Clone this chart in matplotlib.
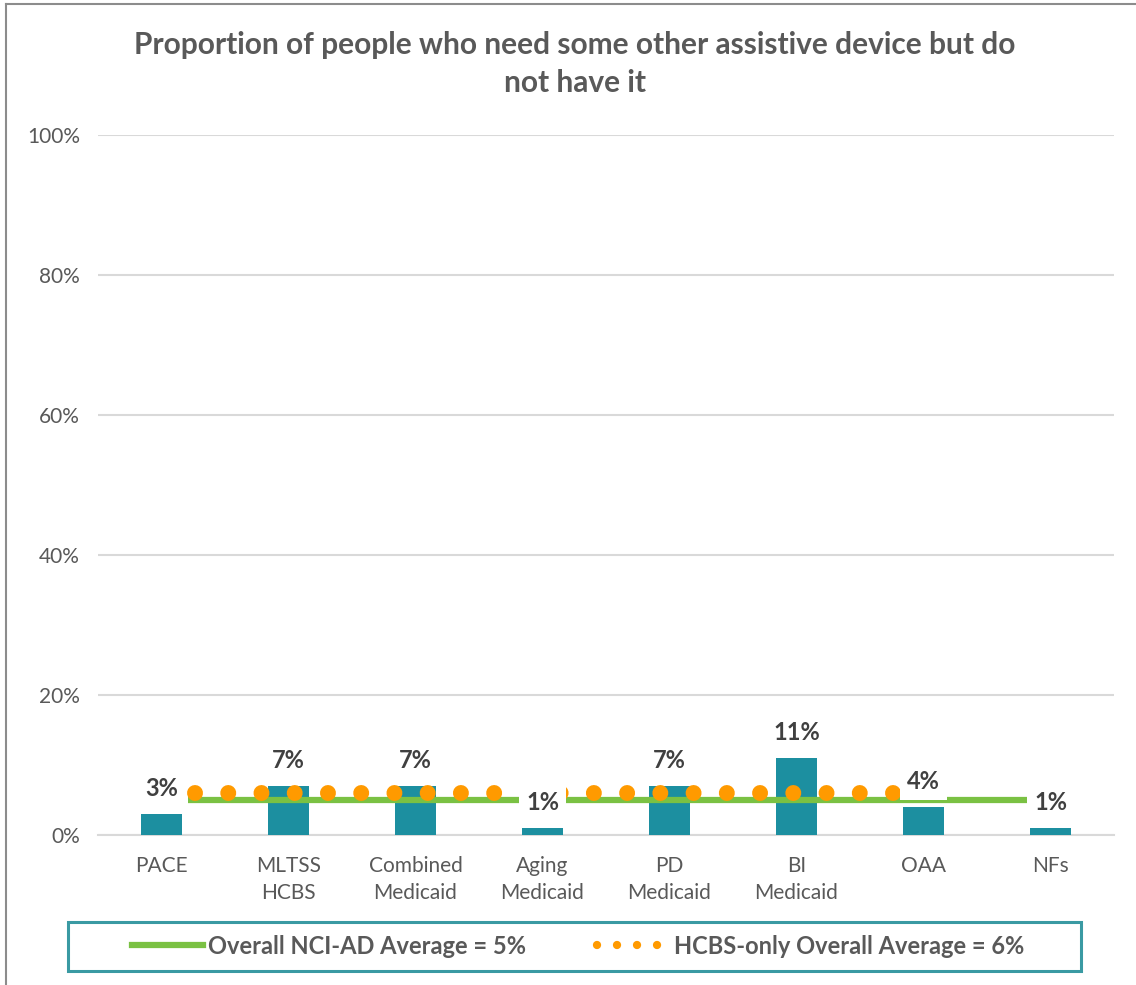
import numpy as np
import matplotlib.pyplot as plt
from matplotlib.lines import Line2D
from matplotlib.patches import Rectangle

plt.rcParams['font.family'] = ['Lato', 'DejaVu Sans']

# Data
categories = ["PACE", "MLTSS\nHCBS", "Combined\nMedicaid", "Aging\nMedicaid",
              "PD\nMedicaid", "BI\nMedicaid", "OAA", "NFs"]
values = [3, 7, 7, 1, 7, 11, 4, 1]
overall_avg = 5
hcbs_avg = 6
yticks = [0, 20, 40, 60, 80, 100]

TEAL = "#1C8FA0"
GREEN = "#7AC143"
ORANGE = "#FF9A00"
GRAY = "#595959"
GRID = "#D9D9D9"

fig = plt.figure(figsize=(11.36, 9.85), dpi=100)
ax = fig.add_axes([98/1136, 150/985, 1016/1136, 700/985])

x = np.arange(len(categories))
ax.bar(x, values, width=0.33, color=TEAL, zorder=3)

# average lines (drawn shapes in the original, partial spans)
ax.plot([0.21, 6.84], [overall_avg, overall_avg], color=GREEN, lw=4.5,
        solid_capstyle='butt', zorder=4)
ax.plot([0.264, 5.78], [hcbs_avg, hcbs_avg], color=ORANGE, lw=11.5,
        linestyle=(0, (0.001, 2.08)), dash_capstyle='round', zorder=5)

# data labels
for xi, v in zip(x, values):
    ax.annotate(f"{v}%", (xi, v), xytext=(0, 10), textcoords='offset points',
                ha='center', va='bottom', fontsize=17, fontweight='bold',
                color="#404040", zorder=6,
                bbox=dict(boxstyle='square,pad=0.3', fc='white', ec='none'))

ax.set_xlim(-0.5, len(categories) - 0.5)
ax.set_ylim(0, 100)
ax.set_yticks(yticks)
ax.set_yticklabels([f"{t}%" for t in yticks], fontsize=15, color=GRAY)
ax.set_xticks(x)
ax.set_xticklabels(categories, fontsize=15, color=GRAY, linespacing=1.45)
ax.tick_params(axis='both', length=0)
ax.tick_params(axis='x', pad=15)
ax.tick_params(axis='y', pad=13)
ax.grid(axis='y', color=GRID, lw=1.5, zorder=0)
for s in ['top', 'right', 'left']:
    ax.spines[s].set_visible(False)
ax.spines['bottom'].set_color(GRID)
ax.spines['bottom'].set_linewidth(1.5)

fig.text(575/1136, 1 - 64/985,
         "Proportion of people who need some other assistive device but do\nnot have it",
         ha='center', va='center', fontsize=21.5, fontweight='bold', color=GRAY,
         linespacing=1.45)

# outer chart border (top and left visible)
fig.add_artist(Line2D([6/1136, 6/1136], [0, 1 - 4/985], color="#8C8C8C", lw=1.5))
fig.add_artist(Line2D([6/1136, 1], [1 - 4/985, 1 - 4/985], color="#8C8C8C", lw=1.5))

# legend box
fig.add_artist(Rectangle((68/1136, 1 - 971/985), 1013/1136, 49/985,
                         transform=fig.transFigure, fill=False,
                         ec="#3A9AA3", lw=2.2))
handles = [Line2D([], [], color=GREEN, lw=4.5),
           Line2D([], [], color=ORANGE, lw=6, linestyle=(0, (0.001, 2.4)),
                  dash_capstyle='round')]
labels = [f"Overall NCI-AD Average = {overall_avg}%",
          f"HCBS-only Overall Average = {hcbs_avg}%"]
fig.legend(handles, labels, loc='center', bbox_to_anchor=(578/1136, 1 - 946/985),
           ncol=2, frameon=False, handlelength=3.0, handletextpad=0.25,
           columnspacing=3.0, prop={'weight': 'bold', 'size': 17},
           labelcolor=GRAY)

fig.savefig("out.png", dpi=100)
